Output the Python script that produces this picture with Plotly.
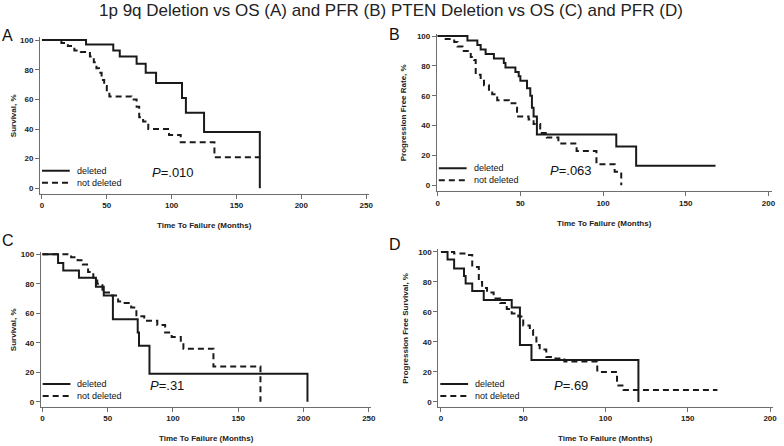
import plotly.graph_objects as go

W, H = 784, 446

# A: 1p 9q deletion vs overall survival
a_del_t = [0, 34, 55, 60, 73, 80, 88, 108, 111, 125, 168]
a_del_s = [100, 97, 93, 89, 84, 78, 71, 61, 51, 38, 0]
a_not_t = [0, 15, 20, 25, 30, 37, 40, 42, 44, 46, 48, 50, 52, 69, 73, 75, 78, 82, 98, 107, 133, 168]
a_not_s = [100, 98, 96, 93, 92, 89, 85, 81, 78, 73, 69, 65, 62, 60, 55, 48, 45, 40, 36, 31, 21, 21]

# B: 1p 9q deletion vs progression free rate
b_del_t = [0, 18, 24, 26, 29, 34, 40, 41, 47, 49, 50, 54, 56, 57, 58, 60, 108, 120, 168]
b_del_s = [100, 97, 94, 91, 88, 85, 82, 79, 76, 73, 70, 65, 60, 52, 46, 34, 26, 13, 13]
b_not_t = [0, 4, 10, 12, 15, 20, 22, 23, 26, 28, 31, 33, 36, 43, 47, 48, 55, 58, 62, 66, 73, 84, 96, 107, 111]
b_not_s = [100, 98, 96, 93, 90, 86, 84, 74, 70, 67, 64, 61, 57, 55, 52, 46, 44, 41, 35, 32, 28, 23, 14, 9, 0]

# C: PTEN deletion vs overall survival
c_del_t = [0, 12, 16, 28, 41, 47, 54, 73, 74, 82, 203]
c_del_s = [100, 94, 89, 84, 78, 72, 56, 47, 38, 19, 0]
c_not_t = [0, 22, 27, 31, 35, 39, 42, 46, 48, 52, 58, 62, 68, 72, 78, 88, 94, 99, 106, 108, 131, 167]
c_not_s = [100, 98, 96, 93, 88, 84, 80, 76, 74, 72, 68, 67, 64, 58, 55, 52, 47, 44, 40, 36, 24, 0]

# D: PTEN deletion vs progression free survival
d_del_t = [0, 4, 8, 14, 15, 19, 26, 43, 48, 55, 120]
d_del_s = [100, 95, 89, 84, 79, 74, 68, 63, 38, 28, 0]
d_not_t = [0, 8, 15, 19, 23, 25, 28, 32, 36, 40, 43, 47, 50, 54, 56, 58, 60, 64, 68, 75, 95, 107, 111, 168]
d_not_s = [100, 99, 98, 90, 80, 76, 73, 69, 66, 62, 59, 57, 51, 48, 44, 38, 35, 30, 29, 27, 20, 11, 8, 8]

panel_letters = ['A', 'B', 'C', 'D']
p_values = ['.010', '.063', '.31', '.69']
y_titles = ['Survival, %', 'Progression Free Rate, %', 'Survival, %', 'Progression Free Survival, %']
x_max = [250, 200, 250, 200]
series = [(a_del_t, a_del_s, a_not_t, a_not_s),
          (b_del_t, b_del_s, b_not_t, b_not_s),
          (c_del_t, c_del_s, c_not_t, c_not_s),
          (d_del_t, d_del_s, d_not_t, d_not_s)]

# pixel boxes of each panel: left, right, top, bottom (axis lines) and ranges
boxes = [
    dict(l=39.3, r=370.6, t=35.0, b=192.5, xr=[-1.5, 252], yr=[-3.6, 102.2]),
    dict(l=439.2, r=776.7, t=31.7, b=190.0, xr=[-0.5, 202], yr=[-4.0, 101.7]),
    dict(l=40.0, r=373.3, t=250.7, b=406.7, xr=[-1.3, 252], yr=[-3.4, 101.8]),
    dict(l=440.7, r=778.3, t=248.0, b=406.7, xr=[-1.6, 202], yr=[-3.3, 102.0]),
]
letter_pos = [(7, 34), (397, 33), (7, 240), (397, 244)]
ytitle_x = [12, 405, 12, 408]
p_x = [150, 551, 148, 555]

LINE = '#1a1a1a'
AXIS = '#6e6e6e'
tick_font = dict(family='Liberation Sans Narrow, Arial Narrow, Liberation Sans, Arial', size=8,
                 color='#222', weight='bold')


def px_x(p):
    return p / W


def px_y(p):
    return 1 - p / H


fig = go.Figure()
annotations = []
shapes = []

for i, (dt, ds, nt, ns) in enumerate(series):
    sx = '' if i == 0 else str(i + 1)
    box = boxes[i]
    fig.add_trace(go.Scatter(x=nt, y=ns, mode='lines', line_shape='hv',
                             line=dict(color=LINE, width=2, dash='6px,4px'),
                             xaxis='x' + sx, yaxis='y' + sx, showlegend=False))
    fig.add_trace(go.Scatter(x=dt, y=ds, mode='lines', line_shape='hv',
                             line=dict(color=LINE, width=2),
                             xaxis='x' + sx, yaxis='y' + sx, showlegend=False))
    common = dict(showline=True, linecolor=AXIS, linewidth=1, ticks='outside', ticklen=4,
                  tickcolor=AXIS, tickwidth=1, showgrid=False, zeroline=False,
                  tickfont=tick_font, fixedrange=True)
    fig.update_layout(**{
        'xaxis' + sx: dict(domain=[px_x(box['l']), px_x(box['r'])], range=box['xr'],
                           tickvals=list(range(0, x_max[i] + 1, 50)), anchor='y' + sx, **common),
        'yaxis' + sx: dict(domain=[px_y(box['b']), px_y(box['t'])], range=box['yr'],
                           tickvals=list(range(0, 101, 20)), anchor='x' + sx, **common),
    })

    # panel letter
    annotations.append(dict(text=panel_letters[i], x=px_x(letter_pos[i][0]), y=px_y(letter_pos[i][1]),
                            xref='paper', yref='paper', xanchor='center', yanchor='middle',
                            showarrow=False, font=dict(family='Liberation Sans, Arial', size=16, color='#111')))
    # axis titles
    annotations.append(dict(text=y_titles[i], x=px_x(ytitle_x[i]), y=(px_y(box['b']) + px_y(box['t'])) / 2,
                            xref='paper', yref='paper', textangle=-90, showarrow=False,
                            xanchor='center', yanchor='middle', font=tick_font))
    annotations.append(dict(text='Time To Failure (Months)', x=(px_x(box['l']) + px_x(box['r'])) / 2,
                            y=px_y(box['b'] + 32), xref='paper', yref='paper', showarrow=False,
                            xanchor='center', yanchor='middle', font=tick_font))
    # p value
    annotations.append(dict(text='<i>P</i>=' + p_values[i], x=px_x(p_x[i]),
                            y=px_y(box['b'] - 21), xref='paper', yref='paper', showarrow=False,
                            xanchor='left', yanchor='middle',
                            font=dict(family='Liberation Sans, Arial', size=13, color='#111')))
    # legend drawn by hand
    for k, (label, dash) in enumerate([('deleted', 'solid'), ('not deleted', '6px,4px')]):
        yy = box['b'] - 23 + 12 * k
        shapes.append(dict(type='line', xref='paper', yref='paper',
                           x0=px_x(box['l'] + 2), x1=px_x(box['l'] + 30), y0=px_y(yy), y1=px_y(yy),
                           line=dict(color=LINE, width=2, dash=dash)))
        annotations.append(dict(text=label, x=px_x(box['l'] + 35), y=px_y(yy), xref='paper', yref='paper',
                                showarrow=False, xanchor='left', yanchor='middle',
                                font=dict(family='Liberation Sans, Arial', size=9, color='#111')))

annotations.append(dict(text='1p 9q Deletion vs OS (A) and PFR (B) PTEN Deletion vs OS (C) and PFR (D)',
                        x=px_x(393), y=px_y(9), xref='paper', yref='paper', showarrow=False,
                        xanchor='center', yanchor='middle',
                        font=dict(family='Liberation Sans, Arial', size=17, color='#222')))

fig.update_layout(width=W, height=H, margin=dict(l=0, r=0, t=0, b=0),
                  paper_bgcolor='white', plot_bgcolor='white',
                  annotations=annotations, shapes=shapes, showlegend=False)

# page body has a default 8px margin; drop it so the figure fills the window
fig.write_html('out.html', config={'displayModeBar': False},
               post_script="document.body.style.margin='0';")
